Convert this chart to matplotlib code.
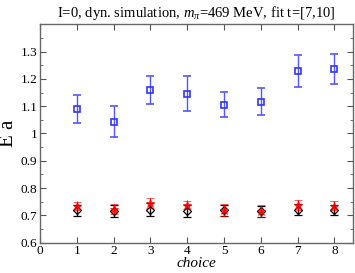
import numpy as np
import matplotlib
matplotlib.use('Agg')
import matplotlib.pyplot as plt
from matplotlib.ticker import MultipleLocator

plt.rcParams['font.family'] = ['Liberation Serif', 'DejaVu Serif']
plt.rcParams['mathtext.fontset'] = 'custom'
plt.rcParams['mathtext.rm'] = 'Liberation Serif'
plt.rcParams['mathtext.it'] = 'Liberation Serif:italic'

# data
choice = [1, 2, 3, 4, 5, 6, 7, 8]
blue_E = [1.090, 1.043, 1.158, 1.145, 1.105, 1.117, 1.229, 1.236]
blue_err = [0.051, 0.057, 0.051, 0.064, 0.046, 0.050, 0.057, 0.056]
black_E = [0.719, 0.716, 0.721, 0.716, 0.719, 0.715, 0.721, 0.719]
black_err = [0.020, 0.022, 0.023, 0.022, 0.020, 0.020, 0.020, 0.019]
red_E = [0.734, 0.723, 0.744, 0.739, 0.719, 0.716, 0.738, 0.736]
red_err = [0.016, 0.017, 0.018, 0.014, 0.021, 0.022, 0.018, 0.017]

fig = plt.figure(figsize=(3.55, 2.73), dpi=100)
ax = fig.add_axes([0.113, 0.111, 0.881, 0.800])

ax.errorbar(choice, blue_E, yerr=blue_err, fmt='s', mfc='none', mec='#3333ff',
            ecolor='#5555ff', ms=5, mew=1.2, capsize=3, elinewidth=1.0, capthick=1.0)
ax.errorbar(choice, black_E, yerr=black_err, fmt='D', mfc='none', mec='black',
            ecolor='black', ms=4, mew=0.9, capsize=3, elinewidth=1.0, capthick=1.0)
ax.errorbar(choice, red_E, yerr=red_err, fmt='*', mfc='red', mec='red',
            ecolor='red', ms=6.5, mew=0.5, capsize=3, elinewidth=1.0, capthick=1.0, alpha=0.85)

ax.set_xlim(0, 8.5)
ax.set_ylim(0.6, 1.4)
ax.xaxis.set_major_locator(MultipleLocator(1))
ax.yaxis.set_minor_locator(MultipleLocator(0.05))
ax.set_yticks([0.6, 0.7, 0.8, 0.9, 1.0, 1.1, 1.2, 1.3])
ax.set_yticklabels(['0.6', '0.7', '0.8', '0.9', '1', '1.1', '1.2', '1.3'])
ax.tick_params(which='both', direction='in', top=True, right=True,
               labelsize=9.5, color='#555555', pad=2)
ax.tick_params(which='major', length=4.5)
ax.tick_params(which='minor', length=2.5)
for s in ax.spines.values():
    s.set_color('#666666')
    s.set_linewidth(1.0)

ax.set_xlabel('choice', style='italic', fontsize=11, labelpad=0)
ax.set_ylabel('E a', fontsize=15, labelpad=2)
ax.set_title(r'I=0, dyn. simulation, $m_{\pi}$=$\mathit{469}$ MeV, fit t=[7,10]',
             fontsize=10.5, pad=5)

fig.savefig('out.png', dpi=100)
